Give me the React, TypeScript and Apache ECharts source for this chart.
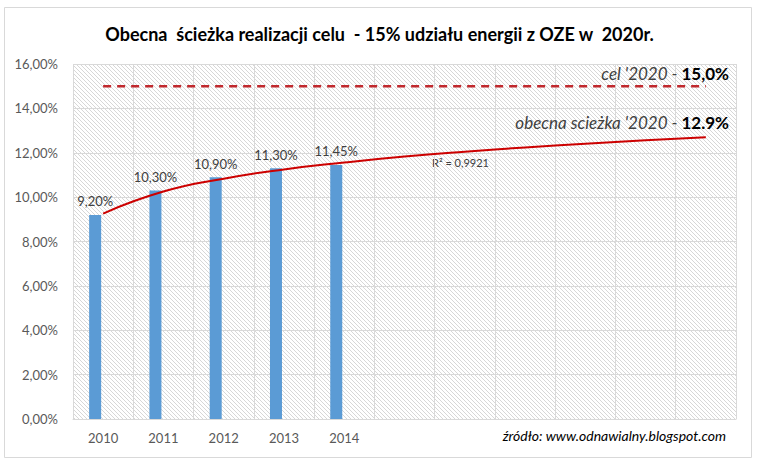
import React, { useEffect, useRef } from "react";
import * as echarts from "echarts";

const years = ["2010", "2011", "2012", "2013", "2014", "2015", "2016", "2017", "2018", "2019", "2020"];
const shownYears = ["2010", "2011", "2012", "2013", "2014"];
const shares = [9.2, 10.3, 10.9, 11.3, 11.45, null, null, null, null, null, null];
const trend = [9.26, 10.25, 10.83, 11.25, 11.56, 11.83, 12.05, 12.24, 12.41, 12.56, 12.7];
const target = [15, 15, 15, 15, 15, 15, 15, 15, 15, 15, 15];
const yTicks = { min: 0, max: 16, interval: 2 };

const titleText = "Obecna  ścieżka realizacji celu  - 15% udziału energii z OZE w  2020r.";
const targetLabel = ["cel '2020 - ", "15,0%"];
const pathLabel = ["obecna scieżka '2020 - ", "12.9%"];
const r2Label = "R² = 0,9921";
const sourceText = "źródło: www.odnawialny.blogspot.com";

const FONT = "Lato, 'Noto Sans', sans-serif";

const fmtPct = (v: number) => v.toFixed(2).replace(".", ",") + "%";

const hatchSvg =
  '<svg xmlns="http://www.w3.org/2000/svg" width="4" height="4">' +
  '<rect width="4" height="4" fill="#ffffff"/>' +
  '<path d="M-1,-1 L5,5 M-1,3 L1,5 M3,-1 L5,1" stroke="#d2d2d2" stroke-width="0.9"/>' +
  "</svg>";
const hatchUrl = "data:image/svg+xml;charset=utf-8," + encodeURIComponent(hatchSvg);

export default function App() {
  const ref = useRef<HTMLDivElement>(null);
  useEffect(() => {
    const chart = echarts.init(ref.current!, null, { renderer: "svg" });
    chart.setOption({
      animation: false,
      backgroundColor: "#ffffff",
      title: {
        text: titleText,
        left: "center",
        top: 20,
        textStyle: { fontFamily: FONT, fontSize: 18, fontWeight: "bold", color: "#000000" },
      },
      grid: {
        left: 73,
        right: 23,
        top: 64,
        bottom: 44,
        show: true,
        borderWidth: 0,
        backgroundColor: { image: hatchUrl, repeat: "repeat" } as any,
      },
      xAxis: {
        type: "category",
        data: years,
        boundaryGap: true,
        axisLine: { lineStyle: { color: "#d9d9d9" } },
        axisTick: { show: false },
        splitLine: { show: true, lineStyle: { color: "#d9d9d9", width: 1 } },
        axisLabel: {
          interval: 0,
          margin: 12,
          color: "#595959",
          fontFamily: FONT,
          fontSize: 13,
          formatter: (v: string) => (shownYears.includes(v) ? v : ""),
        },
      },
      yAxis: {
        type: "value",
        min: yTicks.min,
        max: yTicks.max,
        interval: yTicks.interval,
        axisLine: { show: false },
        axisTick: { show: false },
        splitLine: { lineStyle: { color: "#d9d9d9", width: 1 } },
        axisLabel: {
          margin: 15,
          color: "#595959",
          fontFamily: FONT,
          fontSize: 13,
          formatter: (v: number) => fmtPct(v),
        },
      },
      series: [
        {
          type: "bar",
          data: shares,
          barWidth: 12,
          barGap: "33%",
          itemStyle: { color: "#5b9bd5" },
          label: {
            show: true,
            position: "top",
            distance: 7,
            color: "#404040",
            fontFamily: FONT,
            fontSize: 13,
            formatter: (p: any) => (p.value == null ? "" : fmtPct(p.value)),
          },
          z: 2,
        },
        {
          type: "bar",
          data: years.map(() => null),
          barWidth: 12,
          itemStyle: { color: "transparent" },
        },
        {
          type: "line",
          data: trend,
          smooth: true,
          symbol: "none",
          lineStyle: { color: "#cc0000", width: 2 },
          z: 3,
        },
        {
          type: "line",
          data: target,
          symbol: "none",
          lineStyle: { color: "#c0282d", width: 2.5, type: [8, 6] },
          z: 3,
        },
      ],
      graphic: [
        {
          type: "rect",
          shape: { x: 4.5, y: 7.5, width: 747, height: 450 },
          style: { fill: "none", stroke: "#d9d9d9", lineWidth: 1 },
          silent: true,
        },
        {
          type: "text",
          x: 729,
          y: 73,
          z: 10,
          style: {
            text: "{i|" + targetLabel[0] + "}{b|" + targetLabel[1] + "}",
            align: "right",
            verticalAlign: "middle",
            rich: {
              i: { fontFamily: FONT, fontSize: 17, fontStyle: "italic", fill: "#404040" },
              b: { fontFamily: FONT, fontSize: 17, fontWeight: "bold", fill: "#000000" },
            },
          } as any,
        },
        {
          type: "text",
          x: 729,
          y: 122,
          z: 10,
          style: {
            text: "{i|" + pathLabel[0] + "}{b|" + pathLabel[1] + "}",
            align: "right",
            verticalAlign: "middle",
            rich: {
              i: { fontFamily: FONT, fontSize: 17, fontStyle: "italic", fill: "#404040" },
              b: { fontFamily: FONT, fontSize: 17, fontWeight: "bold", fill: "#000000" },
            },
          } as any,
        },
        {
          type: "text",
          x: 432,
          y: 162,
          style: {
            text: r2Label,
            align: "left",
            verticalAlign: "middle",
            fontFamily: FONT,
            fontSize: 11,
            fill: "#404040",
          },
        },
        {
          type: "text",
          x: 726,
          y: 435,
          style: {
            text: sourceText,
            align: "right",
            verticalAlign: "middle",
            fontFamily: FONT,
            fontSize: 14,
            fontStyle: "italic",
            fill: "#000000",
          },
        },
      ],
    });
    return () => chart.dispose();
  }, []);
  return (
    <div
      ref={ref}
      style={{ position: "fixed", left: 0, top: 0, width: 759, height: 463 }}
    />
  );
}
